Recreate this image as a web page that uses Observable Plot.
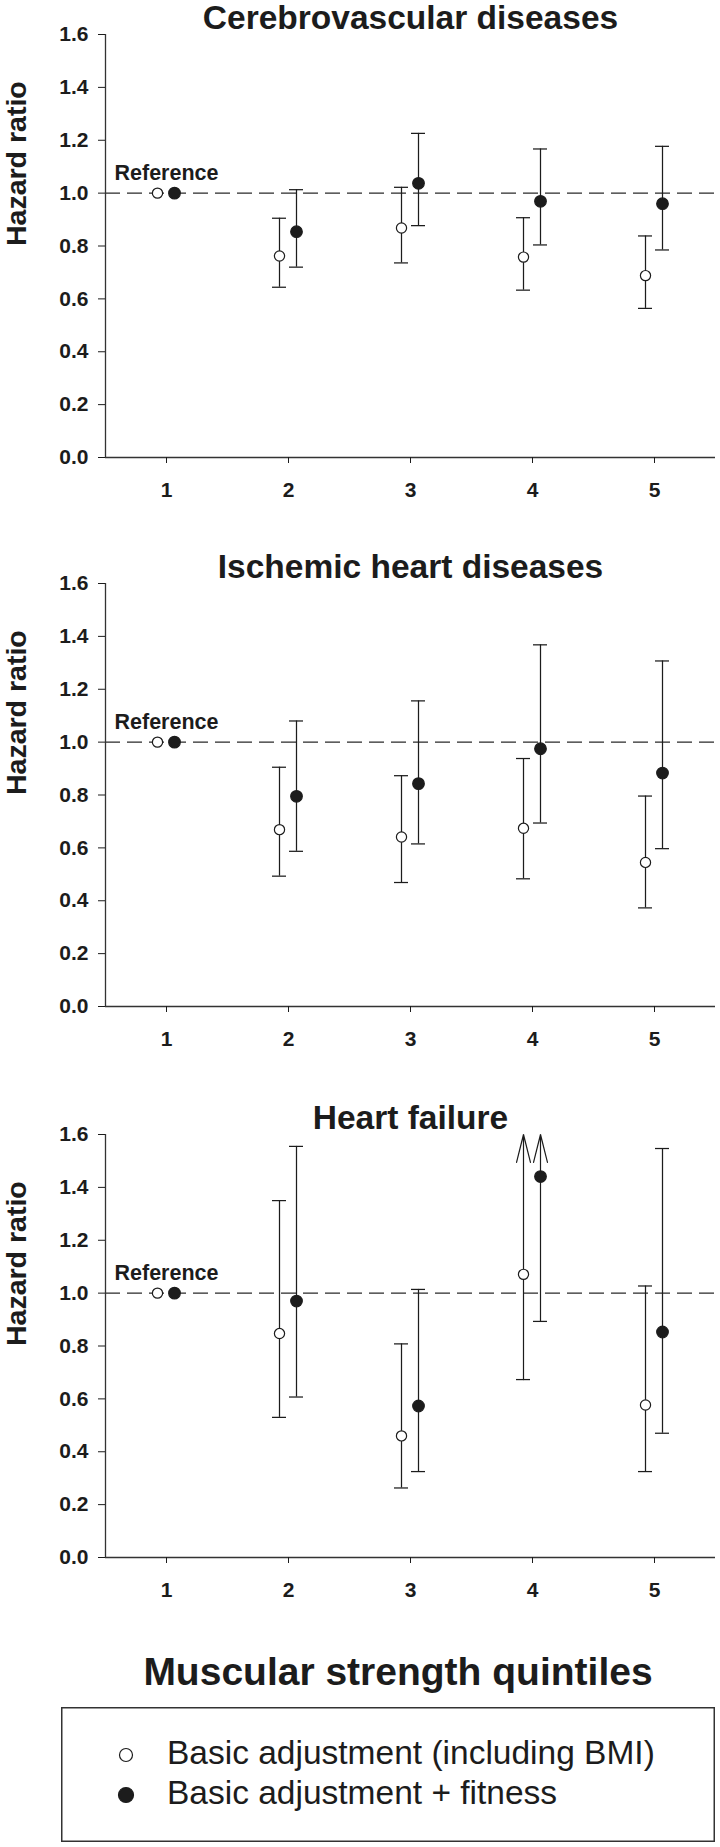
<!DOCTYPE html>
<html>
<head>
<meta charset="utf-8">
<script src="https://cdn.jsdelivr.net/npm/d3@7"></script>
<script src="https://cdn.jsdelivr.net/npm/@observablehq/plot@0.6"></script>
<style>
  html, body { margin: 0; padding: 0; background: #fff; }
  #root { position: relative; width: 720px; height: 1847px; font-family: "Liberation Sans", Arial, Helvetica, sans-serif; }
  .block { position: absolute; left: 0; }
  svg { overflow: visible; }
</style>
</head>
<body>
<div id="root"></div>
<script>
// ---------- data ----------
const quintiles = [1, 2, 3, 4, 5];
const seriesNames = ["Basic adjustment (including BMI)", "Basic adjustment + fitness"];
const panelTitles = ["Cerebrovascular diseases", "Ischemic heart diseases", "Heart failure"];
const referenceLabel = "Reference";
const yAxisLabel = "Hazard ratio";
const xAxisLabel = "Muscular strength quintiles";
const yTicks = [0, 0.2, 0.4, 0.6, 0.8, 1.0, 1.2, 1.4, 1.6];
const xDomain = [0.5, 5.5];
const yDomain = [0, 1.6];
const referenceHR = 1.0;
const referenceQuintile = 1;

// Cerebrovascular diseases
const cvBasicHR   = [1.00, 0.762, 0.868, 0.758, 0.688];
const cvBasicLow  = [null, 0.644, 0.736, 0.633, 0.564];
const cvBasicHigh = [null, 0.905, 1.022, 0.907, 0.838];
const cvFitHR     = [1.00, 0.854, 1.037, 0.969, 0.960];
const cvFitLow    = [null, 0.720, 0.877, 0.804, 0.785];
const cvFitHigh   = [null, 1.013, 1.226, 1.167, 1.177];

// Ischemic heart diseases
const ihBasicHR   = [1.00, 0.669, 0.641, 0.674, 0.545];
const ihBasicLow  = [null, 0.493, 0.469, 0.483, 0.373];
const ihBasicHigh = [null, 0.905, 0.873, 0.938, 0.796];
const ihFitHR     = [1.00, 0.795, 0.843, 0.975, 0.883];
const ihFitLow    = [null, 0.587, 0.615, 0.694, 0.597];
const ihFitHigh   = [null, 1.080, 1.156, 1.368, 1.307];

// Heart failure (upper limit null where it runs off the axis: drawn as arrow)
const hfBasicHR   = [1.00, 0.847, 0.460, 1.071, 0.577];
const hfBasicLow  = [null, 0.530, 0.263, 0.673, 0.325];
const hfBasicHigh = [null, 1.350, 0.808, null, 1.027];
const hfFitHR     = [1.00, 0.970, 0.573, 1.441, 0.853];
const hfFitLow    = [null, 0.607, 0.325, 0.893, 0.470];
const hfFitHigh   = [null, 1.555, 1.014, null, 1.547];

// ---------- drawing ----------
const ink = "#1c1c1c";
const fontFamily = "'Liberation Sans', Arial, Helvetica, sans-serif";

function rows(hr, lo, hi) {
  return quintiles.map((q, i) => ({q, hr: hr[i], lo: lo[i], hi: hi[i]}));
}

function seriesMarks(data, dx, filled) {
  const bars = data.filter(d => d.lo != null && d.hi != null);
  const lows = data.filter(d => d.lo != null);
  const offScale = data.filter(d => d.lo != null && d.hi == null);
  return [
    Plot.ruleX(bars, {x: "q", y1: "lo", y2: "hi", dx, stroke: ink, strokeWidth: 1.25}),
    Plot.ruleY(bars, {y: "hi", x1: "q", x2: "q", dx, insetLeft: -7, insetRight: -7, stroke: ink, strokeWidth: 1.25}),
    Plot.ruleY(lows, {y: "lo", x1: "q", x2: "q", dx, insetLeft: -7, insetRight: -7, stroke: ink, strokeWidth: 1.25}),
    Plot.arrow(offScale, {x1: "q", x2: "q", y1: "lo", y2: () => yDomain[1], dx, headLength: 36, headAngle: 28, stroke: ink, strokeWidth: 1.2}),
    Plot.dot(data, {x: "q", y: "hr", dx, r: filled ? 5.8 : 5.1, fill: filled ? ink : "white", stroke: ink, strokeWidth: 1.2})
  ];
}

function panel(title, basic, fit) {
  return Plot.plot({
    width: 720,
    height: 550,
    marginTop: 34,
    marginBottom: 93,
    marginLeft: 105,
    marginRight: 5,
    style: {fontFamily, fontSize: "21px", fontWeight: "bold", color: ink, background: "white", overflow: "visible"},
    x: {domain: xDomain},
    y: {domain: yDomain},
    marks: [
      Plot.ruleY([referenceHR], {stroke: "#2a2a2a", strokeWidth: 1.3, strokeDasharray: "15,7"}),
      Plot.ruleX([xDomain[0]], {stroke: "#333", strokeWidth: 1.3}),
      Plot.ruleY([yDomain[0]], {stroke: "#333", strokeWidth: 1.3}),
      Plot.axisY({ticks: yTicks, tickFormat: d3.format(".1f"), tickSize: 7, tickPadding: 10, label: null, fontSize: 21, fontWeight: "bold"}),
      Plot.axisX({ticks: quintiles, tickFormat: d => String(d), tickSize: 6, tickPadding: 19, label: null, fontSize: 21, fontWeight: "bold"}),
      ...seriesMarks(basic, -9, false),
      ...seriesMarks(fit, 8, true),
      Plot.text([referenceLabel], {x: () => referenceQuintile, y: () => referenceHR, text: d => d, dy: -13, lineAnchor: "bottom", fontSize: 21.5, fontWeight: "bold", fill: ink}),
      Plot.text([title], {frameAnchor: "top", text: d => d, dy: -6, lineAnchor: "bottom", fontSize: 33.5, fontWeight: "bold", fill: ink}),
      Plot.text([yAxisLabel], {frameAnchor: "left", text: d => d, dx: -89, rotate: -90, fontSize: 28.5, fontWeight: "bold", fill: ink})
    ]
  });
}

const root = document.getElementById("root");
const panels = [
  [rows(cvBasicHR, cvBasicLow, cvBasicHigh), rows(cvFitHR, cvFitLow, cvFitHigh)],
  [rows(ihBasicHR, ihBasicLow, ihBasicHigh), rows(ihFitHR, ihFitLow, ihFitHigh)],
  [rows(hfBasicHR, hfBasicLow, hfBasicHigh), rows(hfFitHR, hfFitLow, hfFitHigh)]
];
const tops = [0, 549, 1100];
panels.forEach(([basic, fit], i) => {
  const div = document.createElement("div");
  div.className = "block";
  div.style.top = tops[i] + "px";
  div.appendChild(panel(panelTitles[i], basic, fit));
  root.appendChild(div);
});

// x-axis title and legend below the panels
const bottomDiv = document.createElement("div");
bottomDiv.className = "block";
bottomDiv.style.top = "1650px";
const bottom = d3.create("svg").attr("width", 720).attr("height", 197)
  .style("font-family", fontFamily);
bottom.append("text")
  .attr("x", 398).attr("y", 35)
  .attr("text-anchor", "middle")
  .attr("font-size", 39).attr("font-weight", "bold").attr("fill", ink)
  .text(xAxisLabel);
const lg = bottom.append("g").attr("transform", "translate(61,57)");
lg.append("rect").attr("x", 0.75).attr("y", 0.75).attr("width", 652.5).attr("height", 133.5)
  .attr("fill", "none").attr("stroke", "#333").attr("stroke-width", 1.5);
seriesNames.forEach((name, i) => {
  lg.append("circle").attr("cx", 65).attr("cy", 48 + 40 * i).attr("r", i === 0 ? 6.5 : 7.5)
    .attr("fill", i === 0 ? "white" : ink).attr("stroke", ink).attr("stroke-width", 1.2);
  lg.append("text").attr("x", 106).attr("y", 57 + 40 * i)
    .attr("font-size", 33.5).attr("fill", ink).text(name);
});
bottomDiv.appendChild(bottom.node());
root.appendChild(bottomDiv);
</script>
</body>
</html>
